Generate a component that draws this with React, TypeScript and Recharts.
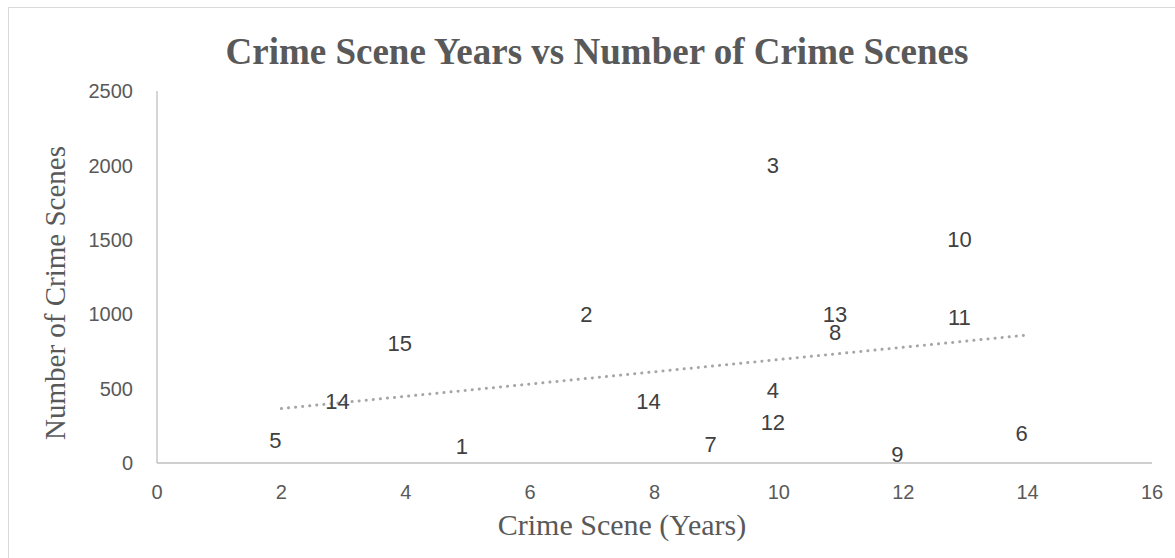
import React from 'react';
import { ScatterChart, Scatter, XAxis, YAxis } from 'recharts';

const years = [2, 3, 4, 5, 7, 8, 9, 10, 10, 10, 11, 11, 12, 13, 13, 14];
const scenes = [150, 410, 800, 110, 1000, 410, 125, 2000, 490, 270, 1000, 880, 60, 1500, 980, 200];
const labels = ['5', '14', '15', '1', '2', '14', '7', '3', '4', '12', '13', '8', '9', '10', '11', '6'];
const xTicks = [0, 2, 4, 6, 8, 10, 12, 14, 16];
const yTicks = [0, 500, 1000, 1500, 2000, 2500];

const points = years.map((x, i) => ({ x, y: scenes[i], label: labels[i] }));

// linear least-squares trendline over the data range
const n = years.length;
const mx = years.reduce((a, b) => a + b, 0) / n;
const my = scenes.reduce((a, b) => a + b, 0) / n;
let sxy = 0;
let sxx = 0;
years.forEach((x, i) => {
  sxy += (x - mx) * (scenes[i] - my);
  sxx += (x - mx) * (x - mx);
});
const slope = sxy / sxx;
const intercept = my - slope * mx;
const xMin = Math.min(...years);
const xMax = Math.max(...years);
const trend = [
  { x: xMin, y: intercept + slope * xMin },
  { x: xMax, y: intercept + slope * xMax },
];

const W = 1175;
const H = 558;

const LabelShape = (props: any) => {
  const { cx, cy, payload } = props;
  return (
    <text
      x={cx - 6}
      y={cy}
      textAnchor="middle"
      dominantBaseline="central"
      fontFamily="'Liberation Sans', Arial, sans-serif"
      fontSize={22}
      fill="#404040"
    >
      {payload.label}
    </text>
  );
};

export default function App() {
  return (
    <div style={{ position: 'absolute', left: 0, top: 0, width: W, height: H, background: '#fff' }}>
      <svg width={W} height={H} style={{ position: 'absolute', left: 0, top: 0 }}>
        <rect x={8.5} y={7.5} width={W} height={H} fill="#fff" stroke="#d9d9d9" strokeWidth={1} />
        <text
          x={597}
          y={51}
          textAnchor="middle"
          dominantBaseline="central"
          fontFamily="'Liberation Serif', 'Times New Roman', serif"
          fontWeight="bold"
          fontSize={37}
          fill="#595959"
        >
          Crime Scene Years vs Number of Crime Scenes
        </text>
        <text
          x={622}
          y={524}
          textAnchor="middle"
          dominantBaseline="central"
          fontFamily="'Liberation Serif', 'Times New Roman', serif"
          fontSize={30}
          fill="#595959"
        >
          Crime Scene (Years)
        </text>
        <text
          x={0}
          y={0}
          transform="translate(55, 293) rotate(-90)"
          textAnchor="middle"
          dominantBaseline="central"
          fontFamily="'Liberation Serif', 'Times New Roman', serif"
          fontSize={29}
          fill="#595959"
        >
          Number of Crime Scenes
        </text>
      </svg>
      <div style={{ position: 'absolute', left: 0, top: 0 }}>
        <ScatterChart
          width={W}
          height={H}
          margin={{ top: 91, right: 23, bottom: 35, left: 0 }}
        >
          <XAxis
            type="number"
            dataKey="x"
            domain={[0, 16]}
            ticks={xTicks}
            allowDataOverflow
            axisLine={{ stroke: '#bfbfbf', strokeWidth: 1.3 }}
            tickLine={false}
            tickSize={0}
            tickMargin={22}
            height={60}
            tick={{ fill: '#595959', fontSize: 20, fontFamily: "'Liberation Sans', Arial, sans-serif" }}
          />
          <YAxis
            type="number"
            dataKey="y"
            domain={[0, 2500]}
            ticks={yTicks}
            allowDataOverflow
            axisLine={{ stroke: '#bfbfbf', strokeWidth: 1.3 }}
            tickLine={false}
            tickSize={0}
            tickMargin={24}
            width={157}
            tick={{ fill: '#595959', fontSize: 20, fontFamily: "'Liberation Sans', Arial, sans-serif" }}
          />
          <Scatter
            data={trend}
            isAnimationActive={false}
            line={{ stroke: '#a6a6a6', strokeWidth: 3, strokeDasharray: '0.1 7', strokeLinecap: 'round' }}
            shape={() => <g />}
          />
          <Scatter data={points} isAnimationActive={false} shape={LabelShape} />
        </ScatterChart>
      </div>
    </div>
  );
}
